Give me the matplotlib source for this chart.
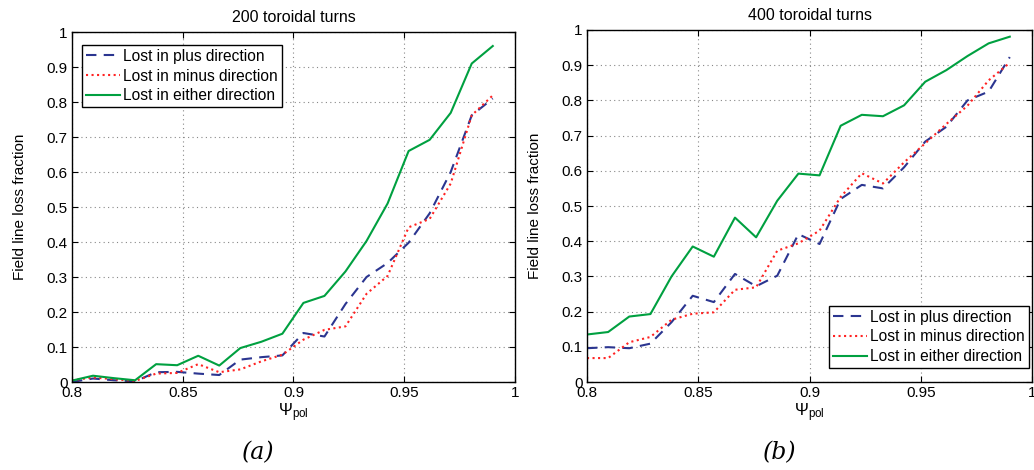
import matplotlib
matplotlib.use("Agg")
import matplotlib.pyplot as plt
from matplotlib.ticker import FormatStrFormatter, MultipleLocator

plt.rcParams['font.family'] = ['Liberation Sans', 'DejaVu Sans']
plt.rcParams['mathtext.fontset'] = 'custom'
plt.rcParams['mathtext.rm'] = 'Liberation Sans'
plt.rcParams['mathtext.it'] = 'Liberation Sans:italic'

# psi_pol sample positions (same for both runs)
psi = [0.800, 0.8095, 0.819, 0.8285, 0.838, 0.8475, 0.857, 0.8665, 0.876, 0.8855,
       0.895, 0.9045, 0.914, 0.9235, 0.933, 0.9425, 0.952, 0.9615, 0.971, 0.9805, 0.990]

# 200 toroidal turns
plus_200 = [0.000, 0.010, 0.005, 0.002, 0.028, 0.029, 0.024, 0.020, 0.064, 0.071,
            0.076, 0.140, 0.130, 0.223, 0.300, 0.340, 0.398, 0.482, 0.600, 0.762, 0.810]
minus_200 = [0.005, 0.013, 0.008, 0.003, 0.024, 0.026, 0.051, 0.028, 0.036, 0.059,
             0.078, 0.121, 0.149, 0.159, 0.252, 0.303, 0.442, 0.466, 0.567, 0.762, 0.819]
either_200 = [0.004, 0.018, 0.011, 0.005, 0.051, 0.048, 0.075, 0.047, 0.097, 0.115,
              0.138, 0.226, 0.246, 0.316, 0.403, 0.510, 0.660, 0.692, 0.769, 0.910, 0.960]

# 400 toroidal turns
plus_400 = [0.096, 0.099, 0.096, 0.109, 0.170, 0.245, 0.227, 0.307, 0.272, 0.302,
            0.420, 0.392, 0.520, 0.560, 0.550, 0.610, 0.683, 0.725, 0.800, 0.825, 0.923]
minus_400 = [0.068, 0.068, 0.113, 0.128, 0.177, 0.194, 0.198, 0.262, 0.269, 0.373,
             0.394, 0.430, 0.526, 0.593, 0.564, 0.624, 0.678, 0.733, 0.785, 0.857, 0.907]
either_400 = [0.135, 0.142, 0.186, 0.193, 0.300, 0.385, 0.356, 0.467, 0.411, 0.515,
              0.592, 0.587, 0.728, 0.759, 0.755, 0.786, 0.853, 0.886, 0.926, 0.962, 0.981]

labels = ["Lost in plus direction", "Lost in minus direction", "Lost in either direction"]

fig = plt.figure(figsize=(10.34, 4.70), dpi=100)
ax1 = fig.add_axes([0.0696, 0.1872, 0.4284, 0.7447])
ax2 = fig.add_axes([0.5677, 0.1872, 0.4304, 0.7490])


def panel(ax, plus, minus, either, title, legloc, anchor, caption, cap_x):
    ax.plot(psi, plus, color='#2b3590', lw=1.5, dashes=(5, 3.5), label=labels[0])
    ax.plot(psi, minus, color='#ff2222', lw=1.5, ls=':', label=labels[1])
    ax.plot(psi, either, color='#00a040', lw=1.5, label=labels[2])
    ax.set_xlim(0.8, 1.0)
    ax.set_ylim(0, 1)
    ax.xaxis.set_major_locator(MultipleLocator(0.05))
    ax.yaxis.set_major_locator(MultipleLocator(0.1))
    ax.xaxis.set_major_formatter(FormatStrFormatter('%g'))
    ax.yaxis.set_major_formatter(FormatStrFormatter('%g'))
    ax.tick_params(direction='in', top=True, right=True, labelsize=11, length=4, pad=3)
    ax.grid(True, ls=(0, (1, 3)), color='#888888', lw=0.8)
    for s in ax.spines.values():
        s.set_linewidth(1.0)
    ax.set_title(title, fontsize=11.5, pad=7)
    ax.set_xlabel(r'$\mathrm{\Psi}_{\mathrm{pol}}$', fontsize=12, labelpad=1)
    ax.set_ylabel("Field line loss fraction", fontsize=11, labelpad=14)
    leg = ax.legend(loc=legloc, bbox_to_anchor=anchor, fontsize=11.2, fancybox=False,
                    framealpha=1, edgecolor='black', handlelength=2.2, handletextpad=0.2,
                    borderpad=0.25, labelspacing=0.3, borderaxespad=0)
    leg.get_frame().set_linewidth(1.0)
    fig.text(cap_x, 0.037, caption, fontsize=17, family='DejaVu Serif',
             style='italic', ha='center', va='center')


panel(ax1, plus_200, minus_200, either_200, "200 toroidal turns",
      'upper left', (0.0226, 0.963), "(a)", 0.25)
panel(ax2, plus_400, minus_400, either_400, "400 toroidal turns",
      'lower right', (0.993, 0.040), "(b)", 0.754)

fig.savefig("out.png", dpi=100)
